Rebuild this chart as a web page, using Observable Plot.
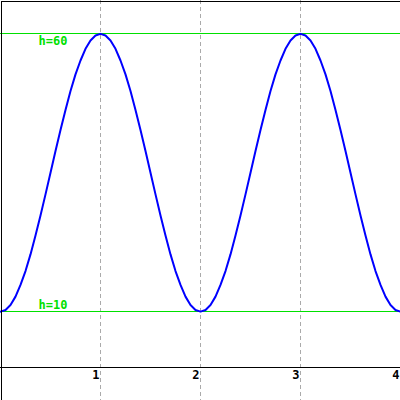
<!DOCTYPE html>
<html>
<head>
<meta charset="utf-8">
<script src="https://cdn.jsdelivr.net/npm/d3@7"></script>
<script src="https://cdn.jsdelivr.net/npm/@observablehq/plot@0.6"></script>
<style>
  html, body { margin: 0; padding: 0; background: #fff; }
  #chart svg { display: block; }
</style>
</head>
<body>
<div id="chart"></div>
<script>
// Sample positions (x) and curve heights (h)
const xs = [
  0.00,0.05,0.10,0.15,0.20,0.25,0.30,0.35,0.40,0.45,
  0.50,0.55,0.60,0.65,0.70,0.75,0.80,0.85,0.90,0.95,
  1.00,1.05,1.10,1.15,1.20,1.25,1.30,1.35,1.40,1.45,
  1.50,1.55,1.60,1.65,1.70,1.75,1.80,1.85,1.90,1.95,
  2.00,2.05,2.10,2.15,2.20,2.25,2.30,2.35,2.40,2.45,
  2.50,2.55,2.60,2.65,2.70,2.75,2.80,2.85,2.90,2.95,
  3.00,3.05,3.10,3.15,3.20,3.25,3.30,3.35,3.40,3.45,
  3.50,3.55,3.60,3.65,3.70,3.75,3.80,3.85,3.90,3.95,
  4.00
];
const hs = [
  10,10.3,11.2,12.7,14.8,17.3,20.3,23.7,27.3,31.1,
  35,38.9,42.7,46.3,49.7,52.7,55.2,57.3,58.8,59.7,
  60,59.7,58.8,57.3,55.2,52.7,49.7,46.3,42.7,38.9,
  35,31.1,27.3,23.7,20.3,17.3,14.8,12.7,11.2,10.3,
  10,10.3,11.2,12.7,14.8,17.3,20.3,23.7,27.3,31.1,
  35,38.9,42.7,46.3,49.7,52.7,55.2,57.3,58.8,59.7,
  60,59.7,58.8,57.3,55.2,52.7,49.7,46.3,42.7,38.9,
  35,31.1,27.3,23.7,20.3,17.3,14.8,12.7,11.2,10.3,
  10
];
const refLevels = [60, 10];
const refLabels = ["h=60", "h=10"];
const gridX = [1, 2, 3];
const tickValues = [1, 2, 3, 4];
const tickLabels = ["1", "2", "3", "4"];

const curve = xs.map((x, i) => ({x, h: hs[i]}));
const refs = refLevels.map((h, i) => ({h, label: refLabels[i]}));
const ticks = tickValues.map((x, i) => ({x, label: tickLabels[i]}));

const green = "#00e000";
const mono = "'DejaVu Sans Mono', 'Liberation Mono', monospace";

const chart = Plot.plot({
  width: 400,
  height: 400,
  margin: 0,
  x: {domain: [0, 4], axis: null},
  y: {domain: [-6, 66], axis: null},
  style: {background: "#fff", overflow: "hidden"},
  marks: [
    Plot.ruleX(gridX, {stroke: "#aaa", strokeWidth: 1, strokeDasharray: "4,3", shapeRendering: "crispEdges"}),
    Plot.ruleY(refLevels, {stroke: green, strokeWidth: 1, shapeRendering: "crispEdges"}),
    Plot.ruleY([0], {stroke: "#000", strokeWidth: 1, shapeRendering: "crispEdges"}),
    Plot.line(curve, {x: "x", y: "h", stroke: "#0000ff", strokeWidth: 2}),
    Plot.text(refs.filter(d => d.h === 60), {
      y: "h", text: "label", frameAnchor: "left", textAnchor: "start",
      dx: 38, dy: 7, fill: green, fontSize: 12, fontWeight: "bold", fontFamily: mono
    }),
    Plot.text(refs.filter(d => d.h === 10), {
      y: "h", text: "label", frameAnchor: "left", textAnchor: "start",
      dx: 38, dy: -6, fill: green, fontSize: 12, fontWeight: "bold", fontFamily: mono
    }),
    Plot.text(ticks, {
      x: "x", y: () => 0, text: "label", textAnchor: "end",
      dx: -1, dy: 8, fill: "#000", fontSize: 12, fontWeight: "bold", fontFamily: mono
    }),
    Plot.frame({stroke: "#000", strokeWidth: 1, inset: 0.5, shapeRendering: "crispEdges"})
  ]
});
document.getElementById("chart").appendChild(chart);
</script>
</body>
</html>
